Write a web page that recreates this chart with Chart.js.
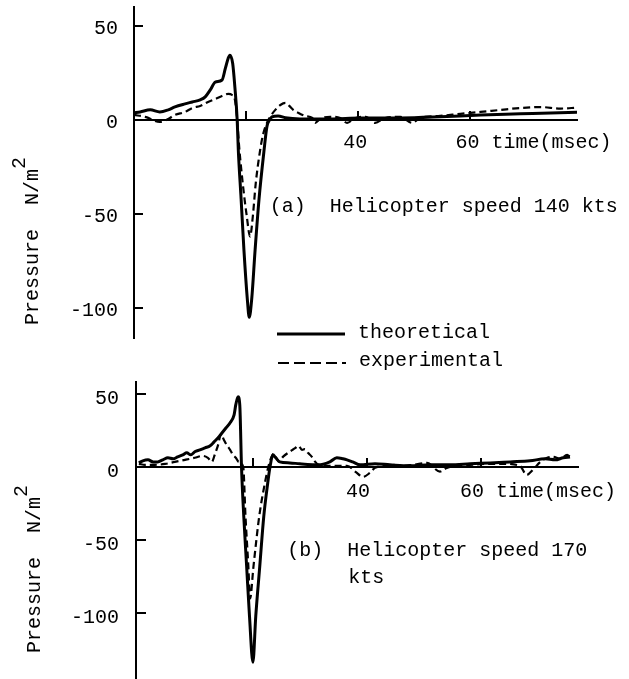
<!DOCTYPE html>
<html>
<head>
<meta charset="utf-8">
<script src="https://cdn.jsdelivr.net/npm/chart.js@4.4.1/dist/chart.umd.min.js"></script>
<style>
  html, body { margin: 0; padding: 0; background: #fff; }
  #wrap { position: relative; width: 629px; height: 679px; }
  canvas { position: absolute; left: 0; top: 0; }
</style>
</head>
<body>
<div id="wrap">
  <canvas id="chartA" width="629" height="679"></canvas>
  <canvas id="chartB" width="629" height="679"></canvas>
</div>
<script>
// (a) helicopter speed 140 kts, time in msec, pressure in N/m^2
const aTheoT = [0, 1.1, 2.9, 4.6, 6.1, 7.3, 9.1, 10.4, 11.8, 12.7, 13.6, 14.5, 15.7, 16.3, 16.8, 17.1, 17.6, 18.0, 18.4, 18.6, 19.1, 19.6, 20.2, 20.55, 21.0, 21.6, 22.3, 23.2, 23.7, 24.2, 24.6, 25.7, 27.0, 29.6, 35, 40.4, 47.5, 54.6, 61.8, 68.9, 74.3, 79];
const aTheoP = [3.7, 4.2, 5.3, 4.2, 5.3, 6.9, 8.5, 9.5, 10.6, 12.2, 15.9, 20.1, 21.2, 27.5, 32.8, 34.4, 30, 17, 0, -16, -42, -69, -95, -105, -95, -69, -42, -16, -3.6, 0, 1.6, 2.1, 1.1, 0.5, 0.5, 1, 1, 1.6, 2.6, 3.2, 3.7, 4.0];
const aExpT = [0, 2.0, 4.6, 6.1, 7.3, 9.1, 10.4, 11.8, 13.2, 14.5, 15.7, 16.8, 17.5, 18.0, 18.4, 18.8, 19.4, 20.1, 20.7, 21.2, 21.7, 22.5, 23.0, 23.8, 24.5, 25.2, 26.1, 27.0, 27.7, 28.4, 29.3, 30.5, 31.8, 32.3, 33.2, 35, 36.8, 38.0, 39.5, 41.3, 43.0, 44.8, 47.5, 49.6, 51, 54.6, 58.2, 61.8, 65.4, 68.9, 72.5, 76.1, 79];
const aExpP = [2.6, 1.6, -1.1, 0.5, 2.6, 4.2, 6.3, 7.4, 9.5, 11.1, 12.7, 13.8, 13.2, 10.6, 0, -16, -34, -51, -62, -51, -34, -16, -8, -1, 2.6, 5.3, 7.9, 9.0, 7.4, 5.3, 3.7, 2.1, 1, -1.6, 0.5, 1.6, 1, -1.6, 1, 1.6, -1.6, 1, 1.6, -1.6, 1, 2.1, 3.2, 4.2, 5.3, 6.3, 6.8, 6.0, 6.5];

// (b) helicopter speed 170 kts
const bTheoT = [0, 0.7, 1.6, 2.5, 3.3, 4.2, 5.1, 6.0, 6.8, 7.7, 8.4, 9.1, 9.8, 10.7, 11.6, 12.5, 13.2, 13.9, 14.6, 15.3, 16.0, 16.7, 17.0, 17.4, 17.7, 18.0, 18.4, 18.9, 19.4, 20.0, 20.5, 21.2, 21.9, 22.6, 23.0, 23.5, 24.0, 24.7, 26.5, 28.2, 31.8, 33.5, 34.7, 35.8, 36.5, 37.5, 38.8, 41.4, 44, 47.5, 51, 54.6, 58.1, 61.6, 65.1, 68.6, 71.2, 73, 74.4, 75.6];
const bTheoP = [2.7, 4.1, 4.8, 3.4, 3.4, 4.8, 6.2, 5.5, 6.8, 8.2, 9.6, 8.2, 10.3, 11.6, 13, 14.4, 17.1, 19.9, 23.3, 26.7, 30.1, 35.6, 42.5, 47.9, 42, 0, -34, -68, -102, -133.6, -102, -68, -34, -11, 0, 8.2, 6.2, 3.4, 2.7, 2.1, 1.4, 3.4, 6.2, 5.5, 4.8, 3.4, 1.4, 2.1, 1.4, 0.7, 1.4, 1.4, 2.1, 2.7, 3.4, 4.1, 5.5, 4.8, 6.2, 6.8];
const bExpT = [0, 1.1, 2.8, 4.6, 6.3, 8.1, 9.8, 11.2, 12.1, 12.8, 13.3, 13.9, 14.4, 14.9, 15.4, 16.0, 16.5, 17.0, 17.5, 18.3, 18.7, 19.2, 19.5, 20.1, 21.1, 22.1, 22.7, 23.2, 23.6, 24.1, 24.5, 25.3, 26.5, 27.4, 28.0, 28.6, 29.1, 29.7, 30.3, 30.9, 31.5, 33.5, 36.5, 38.0, 39.3, 40.5, 41.4, 43.5, 44.6, 46.4, 48, 50.5, 52.8, 54, 58, 63.8, 66.8, 68, 69.1, 70.4, 71.6, 72.6, 73.9, 75.1, 75.6];
const bExpP = [2, 1.4, 1.4, 2, 3.4, 4.8, 6.2, 7.5, 6.2, 3.4, 8.2, 15, 22.5, 18.5, 15, 11.6, 8.2, 6.2, 3.4, 0, -34, -68, -90, -68, -34, -11, 0, 6.2, 8.9, 6.2, 3.6, 7, 10.5, 12.8, 14.4, 11.6, 12.1, 9.4, 7, 3.6, 1.4, 0.7, 0.7, -3.4, -6.8, -4.1, -0.7, 0.7, 1.4, 0.7, 1.4, 2.7, -3.2, -0.7, 1.4, 2.1, 0.7, -5.5, -2, 3.4, 6.2, 6.9, 5.5, 8.2, 6.8];

const xTicks = [20, 40, 60];
const xTickLabels = ['', '40', '60'];
const yTicks = [-100, -50, 0, 50];

const FONT = '"Liberation Mono", monospace';
const font = {family: FONT, size: 20};

function pts(ts, ps) {
    return ts.map((t, i) => ({x: t, y: ps[i]}));
}

function lineSet(ts, ps, dashed) {
    return {
        data: pts(ts, ps),
        borderColor: '#000',
        borderWidth: dashed ? 2.2 : 3,
        borderDash: dashed ? [7, 4] : [],
        pointRadius: 0,
        fill: false,
        cubicInterpolationMode: 'monotone',
    };
}

// text bits: panel caption, y title, time unit, legend
const textPlugin = {
    id: 'texts',
    afterDraw(chart, args, opts) {
        const ctx = chart.ctx;
        const xs = chart.scales.x, ys = chart.scales.y;
        ctx.save();
        ctx.fillStyle = '#000';
        ctx.font = '20px ' + FONT;
        ctx.textBaseline = 'middle';
        ctx.textAlign = 'left';

        // unit after the 60 tick label
        const y0 = ys.getPixelForValue(0);
        ctx.fillText('time(msec)', xs.getPixelForValue(60) + opts.labelDx + 24, y0 + opts.unitDy);

        // caption
        let cx = xs.getPixelForValue(opts.caption.t);
        let cy = ys.getPixelForValue(opts.caption.p);
        opts.caption.lines.forEach((s, i) => {
            ctx.fillText(s, cx + (i > 0 ? 61 : 0), cy + i * 27);
        });

        // y title, rotated, with superscript
        ctx.translate(opts.yTitle.x, opts.yTitle.y);
        ctx.rotate(-Math.PI / 2);
        ctx.fillText('Pressure  N/m', 0, 0);
        const w = ctx.measureText('Pressure  N/m').width;
        ctx.fillText('2', w, -13);
        ctx.restore();

        if (opts.legend) {
            ctx.save();
            ctx.strokeStyle = '#000';
            ctx.fillStyle = '#000';
            ctx.font = '20px ' + FONT;
            ctx.textBaseline = 'middle';
            ctx.lineWidth = 3;
            ctx.beginPath();
            ctx.moveTo(277, 334);
            ctx.lineTo(345, 334);
            ctx.stroke();
            ctx.lineWidth = 2.2;
            ctx.setLineDash([11, 5]);
            ctx.beginPath();
            ctx.moveTo(278, 363);
            ctx.lineTo(346, 363);
            ctx.stroke();
            ctx.setLineDash([]);
            ctx.fillText('theoretical', 358, 333);
            ctx.fillText('experimental', 359, 361);
            ctx.restore();
        }
    }
};

function makeChart(id, cfg) {
    return new Chart(document.getElementById(id), {
        type: 'line',
        data: {
            datasets: [
                lineSet(cfg.theoT, cfg.theoP, false),
                lineSet(cfg.expT, cfg.expP, true),
            ],
        },
        options: {
            responsive: false,
            animation: false,
            events: [],
            layout: {padding: cfg.padding},
            plugins: {
                legend: {display: false},
                tooltip: {enabled: false},
                texts: cfg.texts,
            },
            scales: {
                x: {
                    type: 'linear',
                    min: cfg.xMin,
                    max: cfg.xMax,
                    position: {y: 0},
                    afterBuildTicks: (s) => { s.ticks = xTicks.map(v => ({value: v})); },
                    afterFit: (s) => { s.paddingLeft = 0; s.paddingRight = 0; s.paddingTop = 0; s.paddingBottom = 0; },
                    border: {display: true, color: '#000', width: 2},
                    grid: {drawOnChartArea: false, drawTicks: true, tickLength: -10, color: '#000', lineWidth: 2},
                    ticks: {
                        color: '#000',
                        font: font,
                        padding: cfg.xPad,
                        labelOffset: cfg.texts.labelDx,
                        maxRotation: 0,
                        autoSkip: false,
                        callback: (v) => xTickLabels[xTicks.indexOf(v)] ?? '',
                    },
                },
                y: {
                    type: 'linear',
                    position: 'left',
                    min: cfg.yMin,
                    max: cfg.yMax,
                    afterBuildTicks: (s) => { s.ticks = yTicks.map(v => ({value: v})); },
                    afterFit: (s) => { s.width = cfg.left; s.paddingTop = 0; s.paddingBottom = 0; },
                    border: {display: true, color: '#000', width: 2},
                    grid: {drawOnChartArea: false, drawTicks: true, tickLength: cfg.yTick, color: '#000', lineWidth: 2},
                    ticks: {
                        color: '#000',
                        font: font,
                        padding: cfg.yPad,
                        labelOffset: cfg.yLabelOffset,
                        autoSkip: false,
                        callback: (v) => String(v),
                    },
                },
            },
        },
        plugins: [textPlugin],
    });
}

makeChart('chartA', {
    theoT: aTheoT, theoP: aTheoP, expT: aExpT, expP: aExpP,
    padding: {top: 7, bottom: 341, left: 0, right: 52},
    left: 134,
    xMin: 0, xMax: 79, yMin: -116, yMax: 60,
    xPad: 21, yPad: 25, yTick: -9, yLabelOffset: 3,
    texts: {
        labelDx: -3,
        unitDy: 23,
        caption: {t: 24.2, p: -46, lines: ['(a)  Helicopter speed 140 kts']},
        yTitle: {x: 33, y: 325},
        legend: true,
    },
});

makeChart('chartB', {
    theoT: bTheoT, theoP: bTheoP, expT: bExpT, expP: bExpP,
    padding: {top: 382, bottom: 0, left: 0, right: 51},
    left: 136,
    xMin: -0.5, xMax: 77, yMin: -145, yMax: 58,
    xPad: 23, yPad: 27, yTick: -10, yLabelOffset: 5,
    texts: {
        labelDx: -9,
        unitDy: 25,
        caption: {t: 26, p: -57, lines: ['(b)  Helicopter speed 170', 'kts']},
        yTitle: {x: 35, y: 653},
        legend: false,
    },
});
</script>
</body>
</html>
